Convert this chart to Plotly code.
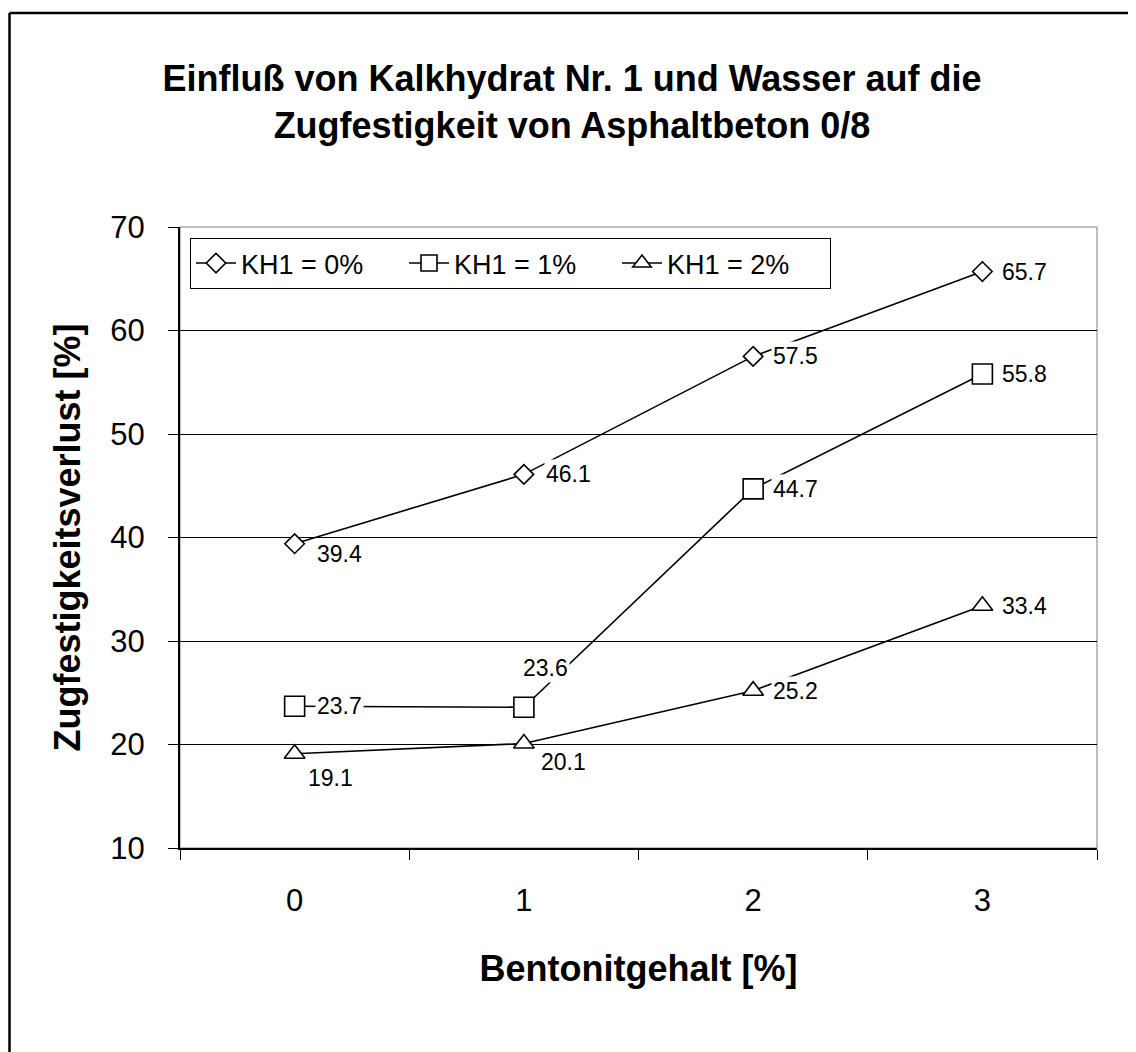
import plotly.graph_objects as go

# Data
bentonit = ["0", "1", "2", "3"]
kh1_0 = [39.4, 46.1, 57.5, 65.7]
kh1_1 = [23.7, 23.6, 44.7, 55.8]
kh1_2 = [19.1, 20.1, 25.2, 33.4]
series_names = ["KH1 = 0%", "KH1 = 1%", "KH1 = 2%"]

# the page body adds an 8px margin, so the figure is made 8px smaller
# and margins are set so the plot lands where the original is
OFF = 8
W, H = 1136 - OFF, 1052 - OFF
L, R, T, B = 172, 39, 219, 204
FONT = "Liberation Sans, Arial, sans-serif"

# label placement (pixel offsets from the point) per series
label_offsets = [
    [(20, -10), (20, 0), (18, 0), (18, 0)],
    [(20, 0), (-3, 39), (18, 0), (18, 0)],
    [(11, -24), (15, -19), (18, 0), (18, 0)],
]
symbols = ["diamond", "square", "triangle-up"]
sizes = [15, 20, 18]

fig = go.Figure()
annotations = []
for name, vals, sym, size, offs in zip(
    series_names, [kh1_0, kh1_1, kh1_2], symbols, sizes, label_offsets
):
    fig.add_trace(
        go.Scatter(
            x=bentonit,
            y=vals,
            name=name,
            mode="lines+markers",
            line=dict(color="black", width=1.6),
            marker=dict(
                symbol=sym,
                size=size,
                color="white",
                line=dict(color="black", width=1.6),
            ),
        )
    )
    for xv, yv, (dx, dy) in zip(bentonit, vals, offs):
        annotations.append(
            dict(
                x=xv,
                y=yv,
                text=f"{yv:.1f}",
                showarrow=False,
                xanchor="left",
                yanchor="middle",
                xshift=dx,
                yshift=dy,
                bgcolor="white",
                borderpad=1,
                font=dict(family=FONT, size=23, color="black"),
            )
        )

pw, ph = W - L - R, H - T - B
# screen pixel -> paper coordinate
px_x = lambda p: (p - OFF - L) / pw
px_y = lambda p: (H - B - (p - OFF)) / ph

shapes = [
    # gray plot frame (top / right)
    dict(type="rect", xref="paper", yref="paper", x0=0, x1=1, y0=0, y1=1,
         line=dict(color="#808080", width=1), layer="below"),
    # outer chart border (left / top)
    dict(type="line", xref="paper", yref="paper", x0=px_x(9.5), x1=px_x(9.5),
         y0=px_y(13), y1=px_y(1052 + 20), line=dict(color="black", width=2.5)),
    dict(type="line", xref="paper", yref="paper", x0=px_x(9.5), x1=px_x(1136 + 20),
         y0=px_y(13), y1=px_y(13), line=dict(color="black", width=2.5)),
]

fig.update_layout(
    width=W,
    height=H,
    margin=dict(l=L, r=R, t=T, b=B),
    paper_bgcolor="white",
    plot_bgcolor="white",
    font=dict(family=FONT, color="black"),
    title=dict(
        text="Einfluß von Kalkhydrat Nr. 1 und Wasser auf die<br>Zugfestigkeit von Asphaltbeton 0/8",
        x=0.5,
        xanchor="center",
        y=1 - 83 / H,
        yanchor="middle",
        yref="container",
        font=dict(family=FONT, size=36, weight="bold", color="black"),
    ),
    xaxis=dict(
        type="category",
        range=[-0.5, 3.5],
        tickson="boundaries",
        ticks="outside",
        ticklen=10,
        tickcolor="black",
        tickwidth=1,
        showline=True,
        linecolor="black",
        linewidth=2,
        showgrid=False,
        tickfont=dict(size=31),
        ticklabelstandoff=24,
        title=dict(text="Bentonitgehalt [%]", font=dict(size=36, weight="bold"), standoff=39),
    ),
    yaxis=dict(
        range=[10, 70],
        dtick=10,
        ticks="outside",
        ticklen=10,
        tickcolor="black",
        tickwidth=1,
        showline=True,
        linecolor="black",
        linewidth=2,
        showgrid=True,
        gridcolor="black",
        gridwidth=1,
        zeroline=False,
        tickfont=dict(size=31),
        ticklabelstandoff=17,
        title=dict(text="Zugfestigkeitsverlust [%]", font=dict(size=36, weight="bold"), standoff=19),
    ),
    legend=dict(
        orientation="h",
        x=px_x(190),
        y=px_y(238),
        xanchor="left",
        yanchor="top",
        bordercolor="black",
        borderwidth=1,
        bgcolor="white",
        font=dict(size=27),
        itemwidth=40,
        entrywidth=158,
    ),
    annotations=annotations,
    shapes=shapes,
    showlegend=True,
)

fig.write_html("out.html")
